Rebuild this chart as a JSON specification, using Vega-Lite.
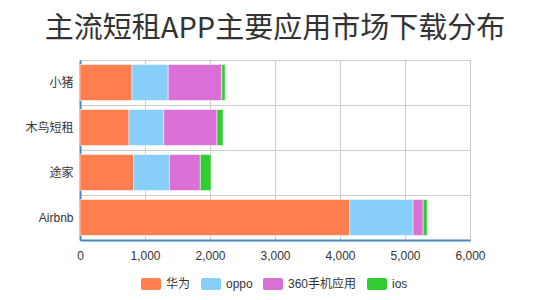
{
  "$schema": "https://vega.github.io/schema/vega-lite/v6.json",
  "autosize": "none",
  "width": 390,
  "height": 180,
  "padding": {"left": 80, "top": 60, "right": 80, "bottom": 60},
  "background": "white",
  "title": {
    "text": "主流短租APP主要应用市场下载分布",
    "anchor": "middle",
    "font": "Noto Sans CJK SC",
    "fontSize": 29,
    "fontWeight": "normal",
    "color": "#333333",
    "offset": 16
  },
  "config": {
    "view": {"stroke": "#cccccc", "strokeWidth": 1},
    "font": "Liberation Sans"
  },
  "data": {
    "values": [
      {"app": "小猪", "market": "华为", "k": 1, "v": 800},
      {"app": "小猪", "market": "oppo", "k": 2, "v": 557},
      {"app": "小猪", "market": "360手机应用", "k": 3, "v": 824},
      {"app": "小猪", "market": "ios", "k": 4, "v": 52},
      {"app": "木鸟短租", "market": "华为", "k": 1, "v": 753},
      {"app": "木鸟短租", "market": "oppo", "k": 2, "v": 536},
      {"app": "木鸟短租", "market": "360手机应用", "k": 3, "v": 819},
      {"app": "木鸟短租", "market": "ios", "k": 4, "v": 93},
      {"app": "途家", "market": "华为", "k": 1, "v": 825},
      {"app": "途家", "market": "oppo", "k": 2, "v": 551},
      {"app": "途家", "market": "360手机应用", "k": 3, "v": 475},
      {"app": "途家", "market": "ios", "k": 4, "v": 165},
      {"app": "Airbnb", "market": "华为", "k": 1, "v": 4149},
      {"app": "Airbnb", "market": "oppo", "k": 2, "v": 975},
      {"app": "Airbnb", "market": "360手机应用", "k": 3, "v": 155},
      {"app": "Airbnb", "market": "ios", "k": 4, "v": 62}
    ]
  },
  "mark": {"type": "bar", "height": {"band": 0.8}, "stroke": "white", "strokeWidth": 0.5},
  "encoding": {
    "y": {
      "field": "app",
      "type": "nominal",
      "sort": ["小猪", "木鸟短租", "途家", "Airbnb"],
      "scale": {"paddingInner": 0, "paddingOuter": 0},
      "axis": {
        "title": null,
        "bandPosition": 0,
        "grid": true,
        "gridColor": "#cccccc",
        "ticks": false,
        "domainColor": "#4488bb",
        "domainWidth": 2,
        "labelFontSize": 12,
        "labelColor": "#333333",
        "labelPadding": 7,
        "labelFont": "Liberation Sans, Noto Sans CJK SC"
      }
    },
    "x": {
      "field": "v",
      "type": "quantitative",
      "stack": "zero",
      "scale": {"domain": [0, 6000], "nice": false},
      "axis": {
        "title": null,
        "values": [0, 1000, 2000, 3000, 4000, 5000, 6000],
        "format": ",d",
        "grid": true,
        "gridColor": "#cccccc",
        "ticks": false,
        "labelFlush": false,
        "domainColor": "#4488bb",
        "domainWidth": 2,
        "labelFontSize": 12,
        "labelColor": "#333333",
        "labelPadding": 10,
        "labelFont": "Liberation Sans"
      }
    },
    "color": {
      "field": "market",
      "type": "nominal",
      "sort": ["华为", "oppo", "360手机应用", "ios"],
      "scale": {
        "domain": ["华为", "oppo", "360手机应用", "ios"],
        "range": ["#ff7f50", "#87cefa", "#da70d6", "#32cd32"]
      },
      "legend": {
        "title": null,
        "orient": "none",
        "direction": "horizontal",
        "legendX": 61,
        "legendY": 214,
        "symbolType": "M-0.8,-0.6L0.8,-0.6A0.2,0.2 0 0 1 1,-0.4L1,0.4A0.2,0.2 0 0 1 0.8,0.6L-0.8,0.6A0.2,0.2 0 0 1 -1,0.4L-1,-0.4A0.2,0.2 0 0 1 -0.8,-0.6Z",
        "symbolSize": 400,
        "symbolStrokeWidth": 0,
        "symbolOpacity": 1,
        "labelFontSize": 12,
        "labelColor": "#333333",
        "labelFont": "Liberation Sans, Noto Sans CJK SC",
        "labelOffset": 5,
        "columnPadding": 10
      }
    },
    "order": {"field": "k", "type": "quantitative"}
  }
}
